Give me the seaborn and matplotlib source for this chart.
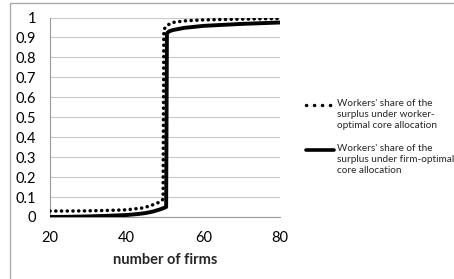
import matplotlib
matplotlib.use("Agg")
import matplotlib.pyplot as plt
import matplotlib.patches as mpatches
from matplotlib.lines import Line2D
import seaborn as sns
import pandas as pd

# Data
worker_x = [20, 25, 30, 35, 40, 44, 46, 48, 49, 49.5, 49.7, 50.5, 52, 55, 60, 65, 70, 80]
worker_y = [0.03, 0.03, 0.031, 0.033, 0.036, 0.045, 0.055, 0.07, 0.078, 0.09, 0.94, 0.96,
            0.975, 0.983, 0.988, 0.99, 0.992, 0.995]
firm_x = [20, 25, 30, 35, 40, 43, 45, 47, 49, 50.3, 50.5, 51, 52, 55, 60, 70, 80]
firm_y = [0.0, 0.001, 0.003, 0.006, 0.01, 0.015, 0.02, 0.028, 0.04, 0.05, 0.92, 0.93,
          0.937, 0.948, 0.958, 0.968, 0.975]
worker_label = "Workers' share of the\nsurplus under worker-\noptimal core allocation"
firm_label = "Workers' share of the\nsurplus under firm-optimal\ncore allocation"
x_ticks = [20, 40, 60, 80]
y_ticks = [0, 0.1, 0.2, 0.3, 0.4, 0.5, 0.6, 0.7, 0.8, 0.9, 1]
y_tick_labels = ["0", "0.1", "0.2", "0.3", "0.4", "0.5", "0.6", "0.7", "0.8", "0.9", "1"]
x_label = "number of firms"

sns.set_style("white")
plt.rcParams['font.family'] = ['Lato', 'DejaVu Sans']

W, H = 454, 279
fig = plt.figure(figsize=(W / 100, H / 100), dpi=100)
ax = fig.add_axes([50 / W, 1 - 217 / H, 230 / W, 199.5 / H])

df_w = pd.DataFrame({"x": worker_x, "y": worker_y})
df_f = pd.DataFrame({"x": firm_x, "y": firm_y})

dot_style = dict(color="black", linewidth=2.5, linestyle=(0, (0.05, 1.6)),
                 dash_capstyle="round")
solid_style = dict(color="black", linewidth=2.8)

sns.lineplot(data=df_w, x="x", y="y", ax=ax, legend=False, zorder=3, **dot_style)
sns.lineplot(data=df_f, x="x", y="y", ax=ax, legend=False, zorder=4, **solid_style)

ax.set_xlim(20, 80)
ax.set_ylim(0, 1)
ax.set_xticks(x_ticks)
ax.set_yticks(y_ticks)
ax.set_yticklabels(y_tick_labels)
ax.tick_params(axis="both", labelsize=10.5, length=4, width=0.8, color="#999999",
               labelcolor="black", direction="out")
ax.tick_params(axis="x", pad=6)
ax.tick_params(axis="y", pad=6)
ax.set_xlabel(x_label, fontsize=10.5, fontweight="bold", labelpad=6)
ax.set_ylabel("")
ax.grid(axis="y", color="#c8c8c8", linewidth=0.8)
ax.set_axisbelow(True)
for s in ["top", "right"]:
    ax.spines[s].set_visible(False)
for s in ["left", "bottom"]:
    ax.spines[s].set_color("#999999")
    ax.spines[s].set_linewidth(0.8)

# Legend (Excel style: marker beside first line of a wrapped label)
entries = [(worker_label, dict(dot_style, linestyle=(0, (0.05, 2.25))), 105),
           (firm_label, dict(solid_style, linewidth=2.6), 150)]
for label, style, yc in entries:
    fig.add_artist(Line2D([306 / W, 334 / W], [1 - yc / H, 1 - yc / H],
                          transform=fig.transFigure, **style))
    fig.text(337 / W, 1 - (yc - 5.5) / H, label, fontsize=7.2, va="top", ha="left",
             linespacing=1.25)

fig.patches.append(mpatches.Rectangle((10 / W, -0.1), 1.2, 1.1 - 3 / H,
                                      transform=fig.transFigure, fill=False,
                                      edgecolor="#aaaaaa", linewidth=1))
fig.savefig("out.png", dpi=100)
